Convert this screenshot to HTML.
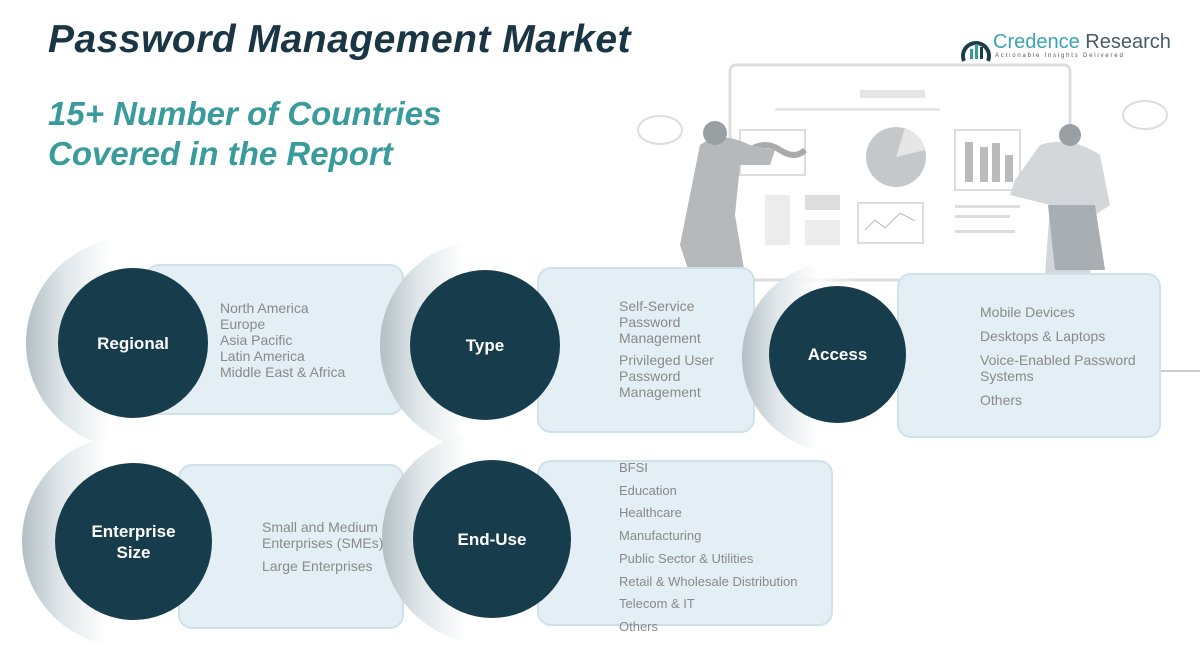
<!DOCTYPE html>
<html><head><meta charset="utf-8"><style>
body{margin:0;width:1202px;height:652px;background:#fff;position:relative;overflow:hidden;font-family:"Liberation Sans",sans-serif}
.a{position:absolute}
.t1{left:48px;top:18px;font-size:39px;font-weight:bold;font-style:italic;color:#1a3644;letter-spacing:0.5px}
.t2{left:48px;top:94px;font-size:33px;font-weight:bold;font-style:italic;color:#3a9b9c;line-height:40px}
.box{position:absolute;background:#e3eef5;border:2px solid #cfe1ea;border-radius:14px;box-sizing:border-box}
.halo{position:absolute;border-radius:50%;background:linear-gradient(to right,#b3bfc5 0%,#dfe6e9 18%,rgba(255,255,255,0.85) 40%,rgba(255,255,255,0) 62%)}
.c{position:absolute;border-radius:50%;background:#173c4b;color:#fff;font-weight:bold;font-size:17px;display:flex;align-items:center;justify-content:center;text-align:center;line-height:21px}
.tx{position:absolute;color:#8a8a8a;font-size:14px;line-height:16px}
</style></head><body>
<svg class="a" style="left:600px;top:55px" width="602" height="330">
<rect x="130" y="10" width="340" height="215" rx="6" fill="#fff" stroke="#dcdcdc" stroke-width="3"/>
<rect x="260" y="35" width="65" height="8" fill="#e6e6e6"/>
<rect x="175" y="53" width="165" height="3" fill="#e6e6e6"/>
<rect x="140" y="75" width="65" height="45" fill="none" stroke="#ddd" stroke-width="2"/>
<path d="M150 95 q15 -10 30 0 t25 0" stroke="#aaa" stroke-width="6" fill="none"/>
<circle cx="296" cy="102" r="30" fill="#c4c8cb"/>
<path d="M296 102 L305 73 A30 30 0 0 1 325 95 Z" fill="#e6e6e6"/>
<rect x="355" y="75" width="65" height="60" fill="none" stroke="#ddd" stroke-width="2"/>
<rect x="365" y="87" width="8" height="40" fill="#bbb"/><rect x="380" y="92" width="8" height="35" fill="#bbb"/><rect x="392" y="88" width="8" height="39" fill="#bbb"/><rect x="405" y="100" width="8" height="27" fill="#bbb"/>
<rect x="165" y="140" width="25" height="50" fill="#ececec"/><rect x="205" y="140" width="35" height="15" fill="#ddd"/><rect x="205" y="165" width="35" height="25" fill="#ececec"/>
<rect x="258" y="148" width="65" height="40" fill="none" stroke="#ddd" stroke-width="2"/>
<path d="M265 175 l10 -10 l10 8 l15 -15 l15 8" stroke="#bbb" fill="none"/>
<rect x="355" y="150" width="65" height="3" fill="#ddd"/><rect x="355" y="160" width="55" height="3" fill="#ddd"/><rect x="355" y="175" width="60" height="3" fill="#ddd"/>
<path d="M80 190 L100 90 Q120 75 150 90 L175 95 L170 110 L140 110 L135 160 L145 220 L90 220 Z" fill="#b5b9bc"/>
<circle cx="115" cy="78" r="12" fill="#9a9fa3"/>
<path d="M440 90 Q470 80 500 100 L510 150 L495 160 L490 220 L445 220 L450 150 L410 140 L415 125 Z" fill="#d3d7da"/>
<path d="M448 150 L495 150 L505 215 L455 215 Z" fill="#a9aeb2"/>
<circle cx="470" cy="80" r="11" fill="#9a9fa3"/>
<ellipse cx="60" cy="75" rx="22" ry="14" fill="none" stroke="#ddd" stroke-width="2"/>
<ellipse cx="545" cy="60" rx="22" ry="14" fill="none" stroke="#ddd" stroke-width="2"/>
<rect x="20" y="315" width="580" height="2" fill="#ccc"/>
</svg>
<div class="a t1">Password Management Market</div>
<div class="a t2">15+ Number of Countries<br>Covered in the Report</div>
<svg class="a" style="left:960px;top:33px" width="32" height="30"><path d="M4 28 A13 13 0 1 1 28 28" fill="none" stroke="#1d3c4b" stroke-width="4"/><rect x="10" y="16" width="3" height="10" fill="#3a9b9c"/><rect x="15" y="11" width="3" height="15" fill="#3a9b9c"/><rect x="20" y="14" width="3" height="12" fill="#1d3c4b"/></svg>
<div class="a" style="left:993px;top:31px;font-size:20px;color:#3aa3b5">Credence <span style="color:#4a5a66">Research</span></div>
<div class="a" style="left:995px;top:53px;font-size:6px;letter-spacing:1.8px;color:#555">Actionable Insights Delivered</div>

<div class="box" style="left:145px;top:264px;width:259px;height:151px"></div>
<div class="box" style="left:537px;top:267px;width:218px;height:166px"></div>
<div class="box" style="left:897px;top:273px;width:264px;height:165px"></div>
<div class="box" style="left:178px;top:464px;width:226px;height:165px"></div>
<div class="box" style="left:537px;top:460px;width:296px;height:166px"></div>

<div class="halo" style="left:26px;top:238px;width:210px;height:210px"></div>
<div class="halo" style="left:380px;top:240px;width:210px;height:210px"></div>
<div class="halo" style="left:742px;top:262px;width:190px;height:190px"></div>
<div class="halo" style="left:22px;top:435px;width:212px;height:212px"></div>
<div class="halo" style="left:382px;top:432px;width:212px;height:212px"></div>

<div class="c" style="left:58px;top:268px;width:150px;height:150px">Regional</div>
<div class="c" style="left:410px;top:270px;width:150px;height:150px">Type</div>
<div class="c" style="left:769px;top:286px;width:137px;height:137px">Access</div>
<div class="c" style="left:55px;top:463px;width:157px;height:157px">Enterprise<br>Size</div>
<div class="c" style="left:413px;top:460px;width:158px;height:158px">End-Use</div>

<div class="tx" style="left:220px;top:300px">North America<br>Europe<br>Asia Pacific<br>Latin America<br>Middle East &amp; Africa</div>
<div class="tx" style="left:619px;top:298px">Self-Service<br>Password<br>Management<div style="height:6px"></div>Privileged User<br>Password<br>Management</div>
<div class="tx" style="left:980px;top:304px">Mobile Devices<div style="height:8px"></div>Desktops &amp; Laptops<div style="height:8px"></div>Voice-Enabled Password<br>Systems<div style="height:8px"></div>Others</div>
<div class="tx" style="left:262px;top:519px">Small and Medium<br>Enterprises (SMEs)<div style="height:7px"></div>Large Enterprises</div>
<div class="tx" style="left:619px;top:457px;font-size:13px;line-height:22.7px">BFSI<br>Education<br>Healthcare<br>Manufacturing<br>Public Sector &amp; Utilities<br>Retail &amp; Wholesale Distribution<br>Telecom &amp; IT<br>Others</div>
</body></html>
